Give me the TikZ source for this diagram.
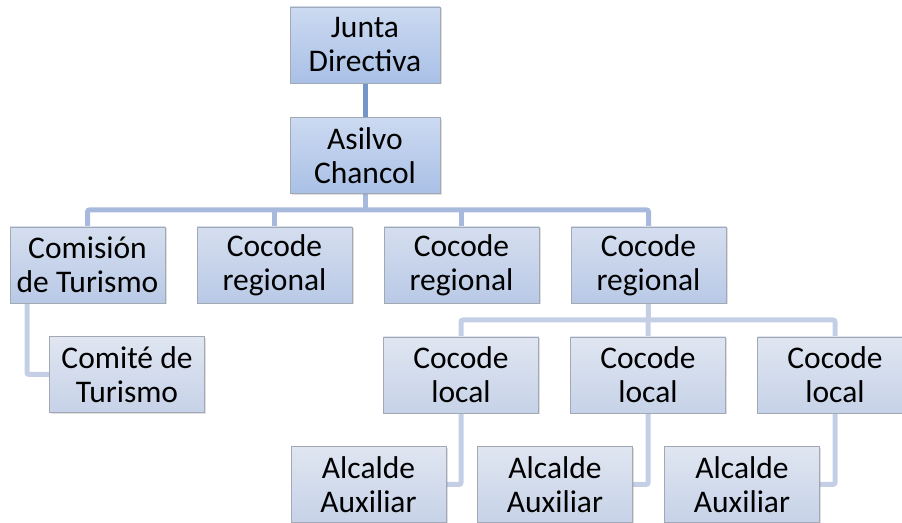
\documentclass[tikz,border=0pt]{standalone}
\usepackage{fontspec}
\setmainfont{Carlito}
\usetikzlibrary{shadows,backgrounds}
\definecolor{bA1}{HTML}{CCDAF1}
\definecolor{bA2}{HTML}{A9C0E6}
\definecolor{bB1}{HTML}{D5DEEF}
\definecolor{bB2}{HTML}{B9C9E6}
\definecolor{bC1}{HTML}{E0E6F1}
\definecolor{bC2}{HTML}{C6D2E8}
\definecolor{lA}{HTML}{7495C9}
\definecolor{lB}{HTML}{A7BADD}
\definecolor{lC}{HTML}{C4CFE6}
\definecolor{bord}{HTML}{A3A9B4}
\tikzset{
  box/.style={draw=bord, line width=0.8pt, minimum width=#1, minimum height=76pt,
    inner sep=0pt, align=center, font=\fontsize{31.5}{34}\selectfont,
    drop shadow={shadow xshift=1.5pt, shadow yshift=-1.5pt, opacity=0.25}},
  boxA/.style={box=150pt, top color=bA1, bottom color=bA2},
  boxB/.style={box=155pt, top color=bB1, bottom color=bB2},
  boxC/.style={box=155pt, top color=bC1, bottom color=bC2},
  conA/.style={draw=lA, line width=5pt},
  conB/.style={draw=lB, line width=5pt, rounded corners=2pt},
  conC/.style={draw=lC, line width=5pt, rounded corners=2pt},
}
\begin{document}
\begin{tikzpicture}[x=1pt,y=1pt]
\useasboundingbox (0,0) rectangle (902,522);
% nodes
\node[boxA] (jd) at (365,477) {Junta\\Directiva};
\node[boxA] (ac) at (365,366.5) {Asilvo\\Chancol};
\node[boxB] (ct) at (87.5,257) {Comisión\\de Turismo};
\node[boxB] (r1) at (274.5,257) {Cocode\\regional};
\node[boxB] (r2) at (461.5,257) {Cocode\\regional};
\node[boxB] (r3) at (648.5,257) {Cocode\\regional};
\node[boxC] (cmt) at (127,147.5) {Comité de\\Turismo};
\node[boxC] (l1) at (461,147) {Cocode\\local};
\node[boxC] (l2) at (648,147) {Cocode\\local};
\node[boxC] (l3) at (835,147) {Cocode\\local};
\node[boxC] (a1) at (368.5,37.5) {Alcalde\\Auxiliar};
\node[boxC] (a2) at (555,37.5) {Alcalde\\Auxiliar};
\node[boxC] (a3) at (742,37.5) {Alcalde\\Auxiliar};
\coordinate (h2) at (365,312);
\coordinate (h3) at (648,202);
\coordinate (ctb) at (27,257);
% connectors
\begin{scope}[on background layer]
\draw[conA] (jd) -- (ac);
\draw[conB] (ac) -- (h2);
\draw[conB] (ct) |- (h2) -| (r3);
\draw[conB] (r1) -- (r1 |- h2);
\draw[conB] (r2) -- (r2 |- h2);
\draw[conC] (ctb) |- (cmt);
\draw[conC] (r3) -- (l2);
\draw[conC] (l1) |- (h3) -| (l3);
\draw[conC] (l1) |- (a1);
\draw[conC] (l2) |- (a2);
\draw[conC] (l3) |- (a3);
\end{scope}
\end{tikzpicture}
\end{document}
